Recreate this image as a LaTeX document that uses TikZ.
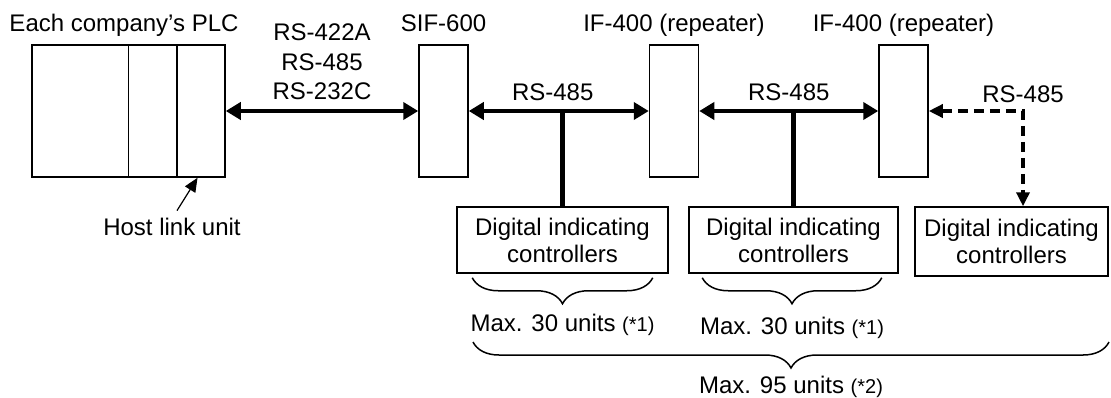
\documentclass[tikz,border=0pt]{standalone}
\usepackage{fontspec}
\setmainfont{Liberation Sans}
\usetikzlibrary{positioning,calc,arrows.meta,decorations.pathreplacing}

\begin{document}
\begin{tikzpicture}
[x=0.5pt,y=-0.5pt,
 font=\fontsize{12}{14.5}\selectfont,
 lbl/.style={text height=9pt,text depth=2.5pt,inner sep=2pt},
 unit/.style={draw,line width=0.75pt,minimum width=24.5pt,minimum height=66pt,inner sep=0pt},
 dic/.style={draw,line width=0.75pt,minimum height=33pt,inner sep=0pt,align=center,
   font=\fontsize{12}{13.5}\selectfont},
 bus/.style={line width=2.2pt,<->,>={Triangle[length=7.5pt,width=8.5pt]}},
 tap/.style={line width=2.2pt},
 dbus/.style={line width=1.7pt,dash pattern=on 5pt off 3pt,<->,>={Triangle[length=7pt,width=6.5pt]}},
 thinarr/.style={line width=0.6pt,->,>={Triangle[length=7pt,width=6pt]}},
 brc/.style={decorate,decoration={brace,mirror,amplitude=13pt},line width=0.75pt}]
\useasboundingbox (0,0) rectangle (1111,397);

\node[unit,minimum width=96.5pt] (plc) at (128.5,111) {};
\foreach \f in {0.5,0.75}
  \draw[line width=0.75pt] ($(plc.north west)!\f!(plc.north east)$) -- ($(plc.south west)!\f!(plc.south east)$);
\node[unit] (sif) at (443.5,111) {};
\node[unit] (if1) at (674,111) {};
\node[unit] (if2) at (903.5,111) {};
\node[dic,minimum width=105.5pt] (dic1) at (562.5,240) {Digital indicating\\controllers};
\node[dic,minimum width=104.5pt] (dic2) at (793.5,240) {Digital indicating\\controllers};
\node[dic,minimum width=96.5pt,minimum height=34.5pt] (dic3) at (1011.5,241.5) {Digital indicating\\controllers};

\node[lbl,above=1.8pt of plc,xshift=-2.25pt] (plcname) {Each company’s PLC};
\node[lbl,above=1.8pt of sif] (sifname) {SIF-600};
\node[lbl,above=1.8pt of if1] (if1name) {IF-400 (repeater)};
\node[lbl,above=1.8pt of if2] (if2name) {IF-400 (repeater)};

\coordinate (hlu) at ($(plc.south west)!0.855!(plc.south east)$);
\node[lbl] (host) at (172,228.5) {Host link unit};
\draw[thinarr] ([xshift=2.5pt,yshift=1pt]host.north) -- (hlu);

\draw[bus] (plc) -- (sif) node[midway,above,align=center,inner sep=4.5pt,
  font=\fontsize{12}{14.75}\selectfont] (plcbus) {RS-422A\\RS-485\\RS-232C};
\draw[bus] (sif) -- (if1) node[lbl,midway,above=-0.5pt,xshift=-3pt] (bus1) {RS-485};
\draw[bus] (if1) -- (if2) node[lbl,midway,above=-0.5pt] (bus2) {RS-485};
\draw[tap] (dic1.north) -- (dic1.north |- sif.east);
\draw[tap] (dic2.north) -- (dic2.north |- if1.east);

\coordinate (bend) at (1023,111);
\draw[dbus] (if2.east) -- (bend) -- (bend |- dic3.north);
\node[lbl,above=-0.5pt] (bus3) at (bend) {RS-485};

\draw[brc] ([shift={(8pt,-2pt)}]dic1.south west) -- ([shift={(-8pt,-2pt)}]dic1.south east)
  node[lbl,midway,below=15.5pt] (max1) {Max. 30 units {\fontsize{10}{11}\selectfont(*1)}};
\draw[brc] ([shift={(7pt,-2pt)}]dic2.south west) -- ([shift={(-8.5pt,-2pt)}]dic2.south east)
  node[lbl,midway,below=17pt] (max2) {Max. 30 units {\fontsize{10}{11}\selectfont(*1)}};
\coordinate (allL) at (473,342);
\coordinate (allR) at (1109,342);
\draw[brc] (allL) -- (allR)
  node[lbl,midway,below=14.5pt] (maxall) {Max. 95 units {\fontsize{10}{11}\selectfont(*2)}};
\end{tikzpicture}
\end{document}
